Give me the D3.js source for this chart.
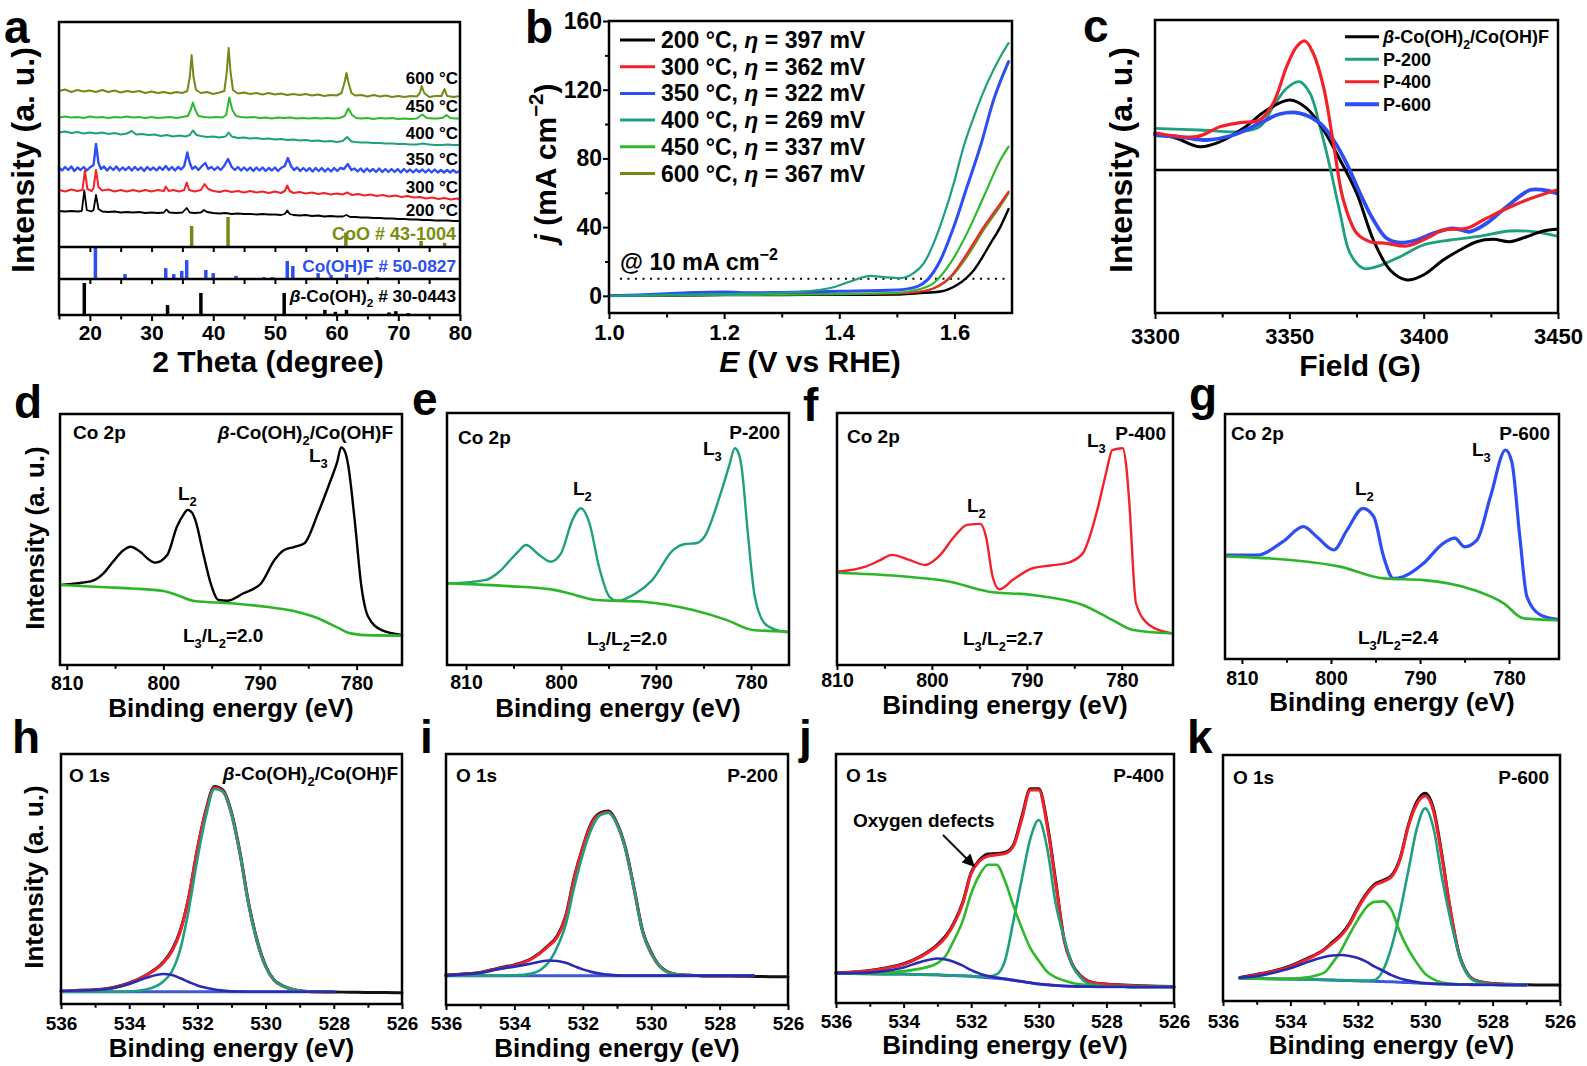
<!DOCTYPE html>
<html><head><meta charset="utf-8">
<script src="https://cdn.jsdelivr.net/npm/d3@7"></script>
<style>body{margin:0;background:#fff}svg{display:block}</style>
</head><body>
<svg id="fig" width="1587" height="1066"></svg>
<script>
// ================= DATA =================
// Panel a: XRD patterns [2theta, intensity a.u.]
const xrd600 = [[15,156],[16,157.5],[17,155],[18,157],[19,155.5],[20,156.5],[21,155],[22,157],[23,155],[24,156.5],[25,154.5],[26,156],[27,155],[28,156],[29,154],[30,155.5],[31,154],[32,155],[33,153.5],[34,155],[35,154],[35.8,156],[36.2,170],[36.5,192],[36.8,170],[37.2,157],[38,154],[39,155],[40,153],[41,154.5],[41.8,156],[42.2,175],[42.5,199],[42.8,175],[43.2,157],[44,153.5],[45,154.5],[46,153],[47,154],[48,152.5],[49,154],[50,152.5],[51,153.5],[52,152],[53,153],[54,152],[55,153],[56,151.5],[57,152.5],[58,151],[59,152],[60,151.5],[60.8,154],[61.3,165],[61.6,174],[61.9,165],[62.4,154],[63,151.5],[64,152],[65,150.5],[66,152],[67,150.5],[68,151.5],[69,150],[70,151],[71,150],[72,151],[73,150.5],[73.5,154],[73.8,161],[74.2,154],[75,150],[76,151],[77,151],[77.5,158],[77.9,151],[79,150],[80,151]];
const xrd450 = [[15,129.5],[16,130.5],[17,129.5],[18,130],[19,129],[20,130.5],[21,129.5],[22,130],[23,129],[24,130],[25,129.5],[26,130.5],[27,129.5],[28,130],[29,129],[30,130],[31,129],[32,129.5],[33,130],[34,129],[35,130],[35.9,131],[36.4,138],[36.7,144.5],[37.1,137],[37.6,131],[38.5,130],[39.5,129.5],[40.5,130],[41.5,129.5],[42.1,132],[42.6,149.5],[43.1,137],[43.7,131],[44.5,130],[45.5,129.5],[46.5,130],[47.5,129],[48.5,129.5],[49.5,128.5],[50.5,129.5],[51.5,129],[52.5,129.5],[53.5,128.5],[54.5,129],[55.5,128.5],[56.5,129],[57.5,128.5],[58.5,129],[59.5,128.5],[60.5,129],[61.3,131],[61.9,138.5],[62.5,132],[63.2,129],[64,128.5],[65,129],[66,128],[67,129],[68,128.5],[69,129],[70,128],[71,128.5],[72,128],[73,128.5],[73.9,132.5],[74.6,129],[75.5,128.5],[76.5,128.5],[77.3,129.5],[77.8,132],[78.4,129],[79.2,128.5],[80,128.5]];
const xrd400 = [[15,114.5],[16,115.5],[17,114],[18,115],[19,113.5],[20,114.5],[21,113.5],[22,114.5],[23,113],[24,114],[25,112.5],[26,113.5],[26.8,116],[27.5,112.5],[28.5,113],[29.5,112],[30.5,112.5],[31.5,111],[32.5,112],[33.5,110.5],[34.5,111.5],[35.5,110.5],[36.2,112],[36.7,116.5],[37.3,112],[38,111],[39,110],[40,110.5],[41,109.5],[42,110.5],[42.5,114.5],[43,110.5],[44,109],[45,109.5],[46,108.5],[47,109],[48,108],[49,108.5],[50,107.5],[51,108],[52,107],[53,107.5],[54,106.5],[55,107],[56,106],[57,106.5],[58,105.5],[59,106],[60,105],[61,106],[61.7,110],[62.4,105.5],[63,105],[64,104.5],[65,104.5],[66,104],[67,104],[68,103.5],[69,103.5],[70,103],[71,103],[72,102.5],[73,102.5],[74,103.5],[75,102.5],[76,102],[77,102],[78,102.5],[79,102],[80,102]];
const xrd350 = [[15,79.5],[15.5,76.5],[16,80],[16.5,77],[17,80.5],[17.5,76],[18,79.5],[18.5,77],[19,80],[19.5,76.5],[20,79.5],[20.6,82],[21,103],[21.4,84],[21.8,78],[22.3,80.5],[22.8,76.5],[23.3,80],[23.8,77],[24.3,80.5],[24.8,76.5],[25.3,79.5],[25.8,77],[26.3,80],[26.8,76.5],[27.3,80],[27.8,77],[28.3,79.5],[28.8,76],[29.3,80],[29.8,77],[30.3,79.5],[30.8,76.5],[31.3,80],[31.8,77],[32.3,81],[32.8,77],[33.3,80],[33.8,76.5],[34.3,80],[34.8,77.5],[35.3,81],[35.8,94.5],[36.2,84],[36.6,78],[37.1,80.5],[37.6,77],[38.1,80.5],[38.7,84],[39.2,78],[39.7,80],[40.2,77],[40.7,80],[41.2,77],[41.7,80.5],[42.4,88],[43,80],[43.5,77],[44,80],[44.5,76.5],[45,79.5],[45.5,76.5],[46,79.5],[46.5,76],[47,79.5],[47.5,76.5],[48,79.5],[48.5,76],[49,79],[49.5,76.5],[50,79.5],[50.5,76],[51,79],[51.6,81],[52.1,89],[52.6,81],[53.1,77],[53.6,79.5],[54.1,76],[54.6,79],[55.1,76],[55.6,79],[56.1,75.5],[56.6,79],[57.1,76],[57.6,79],[58.1,75.5],[58.6,78.5],[59.1,75.5],[59.6,79],[60.1,76],[60.6,79],[61.2,78],[61.8,83],[62.4,77],[62.9,78.5],[63.4,75.5],[63.9,78.5],[64.4,75],[64.9,78.5],[65.4,75.5],[65.9,78],[66.4,75],[66.9,78.5],[67.4,75],[67.9,78],[68.4,75],[68.9,78],[69.4,75],[69.9,78],[70.4,74.5],[70.9,78],[71.4,75],[71.9,77.5],[72.4,74.5],[72.9,77.5],[73.4,75],[73.9,77.5],[74.4,74.5],[74.9,77.5],[75.4,74.5],[75.9,77.5],[76.4,74.5],[76.9,77],[77.4,74.5],[77.9,77],[78.4,74.5],[78.9,77],[79.4,74.5],[80,76]];
const xrd300 = [[15,57],[16,55.5],[17,57.5],[18,56],[18.8,57],[19.2,76.5],[19.6,58],[20.3,56],[20.6,59],[21,77],[21.4,60],[22,56.5],[23,57.5],[24,55.5],[25,57],[26,55.5],[27,57],[28,55.5],[29,57],[30,55.5],[31,57],[32,56],[32.3,60.5],[32.8,56],[33.5,57],[34.5,55.5],[35.3,57],[35.7,64.5],[36.1,57],[37,55.5],[38,57],[38.6,63],[39.2,58],[40,56],[41,55],[42,56.5],[43,55],[44,56],[45,54.5],[46,56],[47,54.5],[48,55.5],[49,54],[50,55.5],[51,54],[51.6,56],[52,61.5],[52.4,56],[53,54],[54,55],[55,53.5],[56,54.5],[57,53],[58,54],[59,52.5],[60,53.5],[61,52.5],[61.7,54.5],[62.5,52],[63.5,53],[64.5,51.5],[65.5,52.5],[66.5,51],[67.5,52],[68.5,50.5],[69.5,51.5],[70.5,50],[71.5,51],[72.5,49.5],[73.5,50],[74.5,48.5],[75.5,49.5],[76.5,48],[77.5,49],[78.5,47.5],[79.5,48.5],[80,47.5]];
const xrd200 = [[15,36],[16,35.5],[17,36],[18,35.5],[18.7,36],[19.1,56.5],[19.5,37],[20.2,35.5],[20.6,37],[21,52],[21.4,38],[22,35.5],[23,35],[24,35.5],[25,34.5],[26,35],[27,34.5],[28,35],[29,34],[30,34.5],[31,34],[32,34.5],[32.4,37.5],[32.9,34.5],[34,34],[35,34.5],[35.7,39],[36.2,34.5],[37,34],[38,34.5],[38.5,37],[39,35],[40,34],[41,33.5],[42,34],[43,33],[44,33.5],[45,33],[46,33],[47,32.5],[48,33],[49,32.5],[50,32.5],[51,32],[51.6,33],[52,36.5],[52.4,33],[53,32],[54,31.5],[55,32],[56,31],[57,31.5],[58,30.5],[59,31],[60,30.5],[61,30.5],[61.6,32],[62.2,30],[63,30],[64,29.5],[65,29.5],[66,29],[67,29],[68,28.5],[69,28.5],[70,28],[71,28],[72,27.5],[73,27.5],[74,27],[75,27],[76,26.5],[77,26.5],[78,26.5],[79,26],[80,26]];
const xrdLabels = ["600 °C","450 °C","400 °C","350 °C","300 °C","200 °C"];
// reference cards [2theta, relative intensity]
const cardCoO = [[36.5,70],[42.4,100],[61.5,48],[73.7,20],[77.5,14]];
const cardCoOHF = [[20.9,100],[25.7,16],[32.3,35],[33.6,16],[34.9,26],[35.7,61],[38.8,29],[40,19],[43.7,10],[48.2,6],[49.6,6],[52,58],[52.9,42],[57,19],[59.1,13],[61.6,16],[66.5,6]];
const cardBeta = [[19.1,100],[32.6,31],[38,69],[51.5,69],[58.1,16],[59.8,10],[61.6,16],[68.5,8],[69.6,12],[71.6,6]];
const xrdTicks = [20,30,40,50,60,70,80];
const xrdMinor = [15,25,35,45,55,65,75];
const xrdSecTicks = [20,25,30,35,40,45,50,55,60,65,70,75];

// Panel b: LSV [E V vs RHE, j mA cm-2]
const lsv200 = [[1.0,0],[1.1,0.2],[1.2,0.4],[1.3,0.5],[1.4,0.6],[1.5,0.7],[1.535,1.5],[1.576,2.5],[1.605,6.4],[1.634,15.1],[1.663,30.7],[1.68,40.3],[1.694,50.5]];
const lsv300 = [[1.0,0],[1.1,0.3],[1.2,0.6],[1.3,0.8],[1.4,1.0],[1.5,1.3],[1.535,2.2],[1.564,4.5],[1.593,11.2],[1.622,24.8],[1.651,40.3],[1.68,54],[1.694,60.7]];
const lsv350 = [[1.0,0],[1.05,0.5],[1.1,1.2],[1.15,2.0],[1.2,2.2],[1.25,1.8],[1.3,2.0],[1.4,2.6],[1.5,3.4],[1.535,5.4],[1.553,9.3],[1.576,21],[1.599,40.3],[1.622,63.6],[1.645,86.9],[1.668,114],[1.694,136.4]];
const lsv400 = [[1.0,0],[1.1,0.5],[1.2,1.0],[1.3,1.8],[1.332,2.3],[1.39,5.0],[1.419,8.3],[1.454,11.6],[1.477,10.9],[1.506,10.3],[1.529,13.2],[1.547,19],[1.564,30.7],[1.581,46.2],[1.599,65.6],[1.616,86.9],[1.634,104.4],[1.657,123.8],[1.68,139.3],[1.694,147.1]];
const lsv450 = [[1.0,0],[1.1,0.3],[1.2,0.5],[1.3,0.7],[1.4,1.0],[1.5,1.8],[1.535,3.5],[1.564,7.4],[1.593,19],[1.622,36.5],[1.651,57.8],[1.68,79.2],[1.694,86.9]];
const lsv600 = [[1.0,0],[1.1,0.2],[1.2,0.5],[1.3,0.7],[1.4,0.9],[1.5,1.2],[1.535,2],[1.564,4.2],[1.593,10.5],[1.622,23],[1.651,38.5],[1.68,52.5],[1.694,59.8]];
const lsvTemps = ["200","300","350","400","450","600"];
const lsvEta = ["397","362","322","269","337","367"];
const lsvRef = [[1.019,10],[1.689,10]];
const lsvXTicks = [1.0,1.2,1.4,1.6];
const lsvXMinor = [1.1,1.3,1.5];
const lsvYTicks = [0,40,80,120,160];
const lsvYMinor = [20,60,100,140];

// Panel c: EPR [Field G, intensity a.u.]
const eprBeta = [[3300,36.7],[3308,31.7],[3316.7,23.3],[3324.2,28.3],[3332.9,41.7],[3341.6,60],[3350.2,70],[3356.5,61.7],[3362.7,40],[3368.9,10],[3375.1,-23.3],[3381.3,-70],[3387.5,-100],[3393.7,-110],[3399.9,-105],[3407.3,-90],[3413.5,-80],[3419.7,-71.7],[3425.9,-69.3],[3432.1,-71.7],[3438.3,-66.7],[3444.5,-61],[3449.5,-59.3]];
const eprP200 = [[3300,41.7],[3316.7,40],[3331.6,38.3],[3339,43.3],[3344,63.3],[3349,81.7],[3353.7,88.3],[3357.7,76.7],[3361.4,43.3],[3365.1,3.3],[3368.9,-43.3],[3372.6,-83.3],[3377.5,-98.3],[3382.5,-96.7],[3391.2,-86.7],[3399.9,-75],[3409.8,-70],[3419.7,-66.7],[3432.1,-61],[3440.8,-61.7],[3449.5,-66]];
const eprP400 = [[3300,37.3],[3315.5,33.3],[3324.2,43.3],[3331.6,47.3],[3339,50],[3344,66.7],[3349,103.3],[3352.7,123.3],[3355.8,129],[3358.9,116.7],[3362.7,83.3],[3366.4,26.7],[3370.1,-30],[3375.1,-63.3],[3380,-71.7],[3386.2,-73.3],[3393.7,-76],[3401.1,-68.3],[3407.3,-60],[3416,-58.3],[3422.2,-50],[3429.7,-40],[3438.3,-30],[3449.5,-20]];
const eprP600 = [[3300,35],[3310.5,32.7],[3319.2,30],[3329.2,35],[3339,46.7],[3346.5,56],[3354,56.7],[3361.4,46.7],[3366.4,30],[3371.3,6.7],[3376.3,-23.3],[3381.3,-50],[3386.2,-68.3],[3391.2,-72.7],[3397.4,-70],[3403.6,-63.3],[3411,-58.3],[3417.2,-61.7],[3423.4,-53.3],[3430.9,-36.7],[3439.6,-20],[3444.5,-20],[3449.5,-23.3]];
const eprTicks = [3300,3350,3400,3450];
const eprMinor = [3325,3375,3425];
const eprNames = ["P-200","P-400","P-600"];

// Panels d-g: Co 2p XPS [binding energy eV, intensity a.u.]
const co2pD = [[810.6,31.9],[809,32.5],[807.3,33.6],[806.2,36.5],[805.2,41.2],[804.2,45.5],[803.4,47.1],[802.4,45.1],[801.5,42],[800.8,40.8],[799.6,43.8],[798.6,55.1],[797.9,60],[797.5,61.8],[797,60.5],[796.7,57.8],[795.8,43.2],[795.1,32.5],[794.3,25.9],[793.4,25.6],[791.7,28.6],[789.9,32.5],[788.5,41.8],[787.5,45.8],[786.5,47],[785.4,48.5],[784,60.4],[782.8,72.4],[782,81],[781.6,86.7],[781.2,85],[780.9,80.3],[780.2,57.8],[779.5,31.2],[778.8,19.2],[777.4,13.9],[775.3,12]];
const co2pDbg = [[810.6,31.9],[806,31],[803.3,30.5],[800,29.5],[798.6,27.9],[796.8,25.5],[793,24.6],[789.4,23.2],[786.5,21.5],[784,18.6],[782,15],[780.6,12.6],[778.5,11.8],[775.3,11.7]];
const co2pE = [[811.8,32.4],[808,33.7],[806.5,37],[805.5,41],[804.5,45],[803.7,47.6],[802.3,43.7],[801.1,41],[800,44.3],[798.8,57.5],[797.9,62.2],[797,56.2],[796,39],[794.9,27.1],[794.1,25.5],[792.1,28.5],[790.4,33.7],[788.2,45.6],[786.9,48],[785.8,48.3],[784.9,50.9],[783.3,66.8],[782.3,79],[781.7,86],[781.3,84],[781,78.7],[780.3,50.9],[779.6,27.1],[778.4,15.9],[776.5,13.2],[776,13]];
const co2pEbg = [[811.8,32.4],[805.5,31.3],[801,30],[799.2,28.5],[796.3,25.8],[791.4,25.1],[786.1,21.8],[782.6,17.9],[779.8,13.9],[776,13.2]];
const co2pF = [[810,37],[807,39],[805.5,41.5],[804.2,43.7],[802.4,41.7],[800.7,39.7],[799.3,43],[797.5,51.6],[796.3,55.6],[794.9,56],[794.3,50.9],[793.6,35],[792.9,30],[791.5,33.7],[789.4,38.4],[787.5,39.5],[785.9,40.3],[784.1,44.3],[783.2,53],[782.4,64.2],[781.6,77],[781,85.3],[779.9,86],[779.5,78],[779.2,64.2],[778.5,24.5],[777.1,15.9],[774.8,12.6]];
const co2pFbg = [[810,36.6],[803.5,35.3],[798.2,33.1],[794,29.1],[789.4,27.8],[784.1,23.8],[781,17.9],[778.8,13.9],[774.8,12.6]];
const co2pG = [[811.7,42.4],[808.3,42.4],[805.4,47.9],[803.1,54],[801.6,49.9],[799.7,44.5],[798.2,52.6],[796.4,61.5],[795.2,58.1],[794.1,41.8],[793,32.9],[791.9,33.6],[789.6,39.1],[787.4,47.2],[786.1,49.3],[785,45.8],[783.6,48.6],[782.1,66.2],[780.4,85.3],[779.7,80.5],[778.8,49.9],[778,25.4],[776.5,18],[774.6,16.2]];
const co2pGbg = [[811.7,41.9],[804.6,40.4],[799,37.7],[794.1,32.9],[789.6,32.2],[784,28.2],[780.6,22.7],[778.4,16.6],[774.6,15.8]];
const co2pTicks = [810,800,790,780];
const co2pMinor = [805,795,785];
const co2pRatios = ["2.0","2.0","2.7","2.4"];

// Panels h-k: O 1s XPS on a shared energy grid
const o1sE = [536,535.5,535,534.5,534,533.5,533,532.75,532.5,532.25,532,531.75,531.5,531.25,531,530.75,530.5,530.25,530,529.75,529.5,529.25,529,528.75,528.5,528,527.5,527,526.5,526];
const hRaw = [null,5.5,5.7,6.5,8.4,11.6,16.8,21.5,29.5,43,62,77.5,87,85.5,76.5,60.5,40.5,25.5,15.3,9.6,7.3,6.0,5.3,5.0,4.9,4.8,4.7,4.6,4.6,4.5];
const hFit = [5.2,5.4,5.6,6.4,8.2,11.5,16.5,21,29,43,62,77,86.5,85,76,60,40,25,15,9.5,7.2,6.0,5.3,5.0,4.9,4.9,null,null,null,null];
const hBase = [4.9,4.9,4.9,4.9,4.9,4.9,4.9,4.9,4.9,4.9,4.9,4.9,4.9,4.9,4.9,4.9,4.9,4.9,4.9,4.9,4.9,4.9,4.9,4.9,4.9,4.9,null,null,null,null];
const hC1 = [4.9,4.9,4.9,4.9,5.0,5.8,9,13,22,38,58,75,86,85,76,60,40,25,15,9.5,7.2,6.0,5.3,5.0,4.9,4.9,null,null,null,null];
const hC3 = [5.2,5.4,5.6,6.3,8,10.5,12,11.6,10.3,8.8,7.4,6.5,5.8,5.4,5.1,5.0,4.9,4.9,4.9,4.9,4.9,4.9,4.9,4.9,4.9,4.9,null,null,null,null];
const iRaw = [12,12.4,13,14.6,16,18.5,23.8,27.5,35.5,51,63,72.5,76.5,77.3,72.5,62.5,46.5,29.5,21,15.5,13.1,12.2,11.9,11.8,11.6,11.6,11.5,11.4,11.3,11.3];
const iFit = [11.8,12.3,12.9,14.4,15.8,18.3,23.5,27,35,50.5,62.5,72,76,76.8,72,62,46,29,20.5,15.3,13,12.2,11.9,11.8,11.7,11.7,11.7,11.7,null,null];
const iBase = [11.7,11.7,11.7,11.7,11.7,11.7,11.7,11.7,11.7,11.7,11.7,11.7,11.7,11.7,11.7,11.7,11.7,11.7,11.7,11.7,11.7,11.7,11.7,11.7,11.7,11.7,11.7,11.7,null,null];
const iC1 = [11.7,11.7,11.7,11.7,11.8,12.5,17,23,32,47,60,70,75.5,76.5,72,62,46,29,20.5,15.3,13,12.2,11.9,11.8,11.7,11.7,11.7,11.7,null,null];
const iC3 = [11.7,12.2,12.8,14.2,15.3,16.5,17.7,17.5,16.8,15.5,14.2,13.2,12.5,12.1,11.8,11.7,11.7,11.7,11.7,11.7,11.7,11.7,11.7,11.7,11.7,11.7,11.7,11.7,null,null];
const jRaw = [12.2,12.5,13.1,14.2,15.8,18.8,23.5,27,32.5,40.5,52.5,57.5,59.8,60,60.5,63.5,75,86,86,72,49,25.5,15.3,10.8,8.6,7.6,7.2,6.9,6.7,6.6];
const jFit = [12.1,12.4,13,14,15.5,18.5,23,26.5,32,40,52,57,59,59.5,60,63,74,85.5,85.5,71,48,25,15,10.5,8.5,7.5,7.1,6.8,6.6,6.5];
const jBase = [11.9,11.8,11.7,11.6,11.6,11.4,11.3,11.1,11.0,10.9,10.7,10.4,10.1,9.9,9.6,9.1,8.6,8.1,7.6,7.3,7.0,6.8,6.7,6.6,6.6,6.5,6.5,6.4,6.4,6.4];
const jC1 = [11.9,11.8,11.7,11.6,11.6,11.4,11.3,11.1,11.0,10.9,10.8,10.7,10.7,11.5,17,33,50,66,73.5,62,40,26,15,10,7.6,6.7,6.5,6.4,6.4,6.4];
const jC2 = [11.9,11.9,11.9,12.2,12.8,13.8,16,19,25.5,33,44,51.5,55.5,55.5,49,39,30,22,17,12.5,10.3,9,8,7.5,7,6.6,6.5,6.4,6.4,6.4];
const jC3 = [11.9,12.0,12.2,13,14.3,16.5,17.9,17.5,16.5,15,13.2,11.8,10.8,10.2,9.7,9.2,8.6,8.1,7.6,7.3,7.0,6.8,6.7,6.6,6.6,6.5,6.5,6.4,6.4,6.4];
const kRaw = [null,9.6,10.8,12.2,14.3,17.3,21,24,27,31.5,38,43.5,47.5,49,51,57.8,71.5,81,84.5,78,59,36.5,19.5,11.3,8.4,7.1,6.8,6.6,6.5,6.5];
const kFit = [null,9.4,10.6,12,14,17,20.7,23.5,26.5,31,37.5,43,47,48.5,50.5,57.3,71,80,83.3,77,58,37,19,11,8.3,7,6.7,6.6,null,null];
const kBase = [null,9.2,9.1,9.0,8.9,8.8,8.6,8.5,8.4,8.3,8.2,8.1,8.0,7.9,7.8,7.6,7.5,7.3,7.2,7.0,6.9,6.8,6.7,6.7,6.6,6.6,6.5,6.5,null,null];
const kC1 = [null,9.2,9.1,9.0,8.9,8.8,8.6,8.5,8.4,8.3,8.2,8.2,8.5,12.5,22,36,53,70,78.3,70,50,33,19,11,8,6.8,6.6,6.5,null,null];
const kC2 = [null,9.2,9.1,9.0,9.0,9.6,11.5,15.5,20.5,27,33,38,40.3,40.5,37,28,21,15.5,11,8.8,7.5,7,6.8,6.7,6.6,6.6,6.5,6.5,null,null];
const kC3 = [null,9.5,10.1,11.5,13.3,15.8,17.9,18.5,18.7,18.3,17.5,16,14,12.3,10.5,9.2,8.3,7.7,7.2,7.0,6.9,6.8,6.7,6.7,6.6,6.6,6.5,6.5,null,null];
const o1sTicks = [536,534,532,530,528,526];
const o1sMinor = [535,533,531,529,527];

// ================= DRAWING =================
const FONT = '"Liberation Sans", Arial, Helvetica, sans-serif';
const svg = d3.select('#fig').attr('font-family', FONT);
const C = {black:'#000', red:'#f3222a', blue:'#2d4ef2', teal:'#1e9f80', green:'#2fb82b', olive:'#6f8a16',
  bgGreen:'#2db52a', compBlue:'#2a2ab4', baseBlue:'#3a5ad8'};

function rich(parent, x, y, parts, size, anchor, color, rot) {
  const t = parent.append('text').attr('x', x).attr('y', y).attr('font-size', size)
    .attr('font-weight', 'bold').attr('text-anchor', anchor || 'start').attr('fill', color || '#000');
  if (rot) t.attr('transform', `rotate(${rot},${x},${y})`);
  let shift = 0;
  parts.forEach(p => {
    const [s, m] = typeof p === 'string' ? [p, ''] : p;
    const ts = t.append('tspan').text(s);
    let target = 0;
    if (m === 'sub') { target = size * 0.32; ts.attr('font-size', size * 0.68); }
    if (m === 'sup') { target = -size * 0.42; ts.attr('font-size', size * 0.68); }
    if (m === 'i') ts.attr('font-style', 'italic');
    if (target !== shift) { ts.attr('dy', target - shift); shift = target; }
  });
  return t;
}
function frame(x0, y0, x1, y1) {
  svg.append('rect').attr('x', x0).attr('y', y0).attr('width', x1 - x0).attr('height', y1 - y0)
    .attr('fill', 'none').attr('stroke', '#000').attr('stroke-width', 2.5);
}
function bottomAxis(scale, y, major, minor, fs, pad, fmt, tick) {
  tick = tick || 5;
  const g = svg.append('g').attr('transform', `translate(0,${y})`);
  g.call(d3.axisBottom(scale).tickValues(major).tickSize(tick).tickPadding(pad).tickFormat(fmt || d3.format('d')));
  g.select('.domain').remove();
  g.selectAll('.tick line').attr('stroke', '#000').attr('stroke-width', 2);
  g.selectAll('.tick text').attr('font-size', fs).attr('font-weight', 'bold').attr('font-family', FONT).attr('fill', '#000');
  if (minor) {
    const m = svg.append('g').attr('transform', `translate(0,${y})`);
    m.call(d3.axisBottom(scale).tickValues(minor).tickSize(tick * 0.75).tickFormat(''));
    m.select('.domain').remove();
    m.selectAll('.tick line').attr('stroke', '#000').attr('stroke-width', 2);
  }
}
function panelLetter(x, y, s) {
  svg.append('text').attr('x', x).attr('y', y).attr('font-size', 46).attr('font-weight', 'bold').text(s);
}
function path(data, x, y, color, w, curve) {
  const line = d3.line().defined(d => d[1] != null).x(d => x(d[0])).y(d => y(d[1])).curve(curve || d3.curveLinear);
  svg.append('path').datum(data).attr('d', line).attr('fill', 'none').attr('stroke', color)
    .attr('stroke-width', w).attr('stroke-linejoin', 'round').attr('stroke-linecap', 'round');
}

// ---------- Panel a ----------
(function () {
  const X0 = 59, X1 = 460, T = 22, D1 = 247, D2 = 279, B = 315;
  const x = d3.scaleLinear().domain([15, 80]).range([X0, X1]);
  const y = d3.scaleLinear().domain([0, 225]).range([D1, T]);
  const series = [[xrd600, C.olive, 2], [xrd450, C.green, 2], [xrd400, C.teal, 2], [xrd350, C.blue, 2.4], [xrd300, C.red, 2], [xrd200, C.black, 1.8]];
  series.forEach(s => path(s[0], x, y, s[1], s[2]));
  const labY = [84, 112, 139, 165, 193, 216];
  xrdLabels.forEach((l, i) => rich(svg, 458, labY[i], [l], 17, 'end', '#000'));
  // reference cards
  const yCoO = d3.scaleLinear().domain([0, 100]).range([D1, D1 - 30]);
  const yF = d3.scaleLinear().domain([0, 100]).range([D2, D1 + 1]);
  const yB = d3.scaleLinear().domain([0, 100]).range([B, D2 + 4]);
  [[cardCoO, yCoO, '#6f8a16', D1], [cardCoOHF, yF, '#2d4ef2', D2], [cardBeta, yB, '#000', B]].forEach(c => {
    svg.append('g').selectAll('line').data(c[0]).join('line')
      .attr('x1', d => x(d[0])).attr('x2', d => x(d[0])).attr('y1', c[3]).attr('y2', d => c[1](d[1]))
      .attr('stroke', c[2]).attr('stroke-width', 3.5);
  });
  rich(svg, 456, 239.5, ['CoO # 43-1004'], 18, 'end', '#7a8c12');
  rich(svg, 456, 271.5, ['Co(OH)F # 50-0827'], 17.3, 'end', '#2d4ef2');
  rich(svg, 456, 301.5, [['β', 'i'], '-Co(OH)', ['2', 'sub'], ' # 30-0443'], 17.3, 'end', '#000');
  frame(X0, T, X1, B);
  svg.append('line').attr('x1', X0).attr('x2', X1).attr('y1', D1).attr('y2', D1).attr('stroke', '#000').attr('stroke-width', 2.5);
  svg.append('line').attr('x1', X0).attr('x2', X1).attr('y1', D2).attr('y2', D2).attr('stroke', '#000').attr('stroke-width', 2.5);
  bottomAxis(x, D1, xrdSecTicks, null, 0, 0, () => '', 5);
  bottomAxis(x, D2, xrdSecTicks, null, 0, 0, () => '', 5);
  bottomAxis(x, B, xrdTicks, xrdMinor, 21, 3.6, d3.format('d'), 6);
  rich(svg, 268, 372, ['2 Theta (degree)'], 30, 'middle');
  rich(svg, 34, 160, ['Intensity (a. u.)'], 32, 'middle', '#000', -90);
  panelLetter(4, 43, 'a');
})();

// ---------- Panel b ----------
(function () {
  const X0 = 609, X1 = 1012, T = 21, B = 313;
  const x = d3.scaleLinear().domain([1.0, 1.7]).range([X0, X1]);
  const y = d3.scaleLinear().domain([-10, 160]).range([B, T]);
  svg.append('path').datum(lsvRef).attr('d', d3.line().x(d => x(d[0])).y(d => y(d[1])))
    .attr('stroke', '#000').attr('stroke-width', 2).attr('stroke-dasharray', '2,5.5').attr('fill', 'none');
  const cur = d3.curveMonotoneX;
  path(lsv600, x, y, C.olive, 2.2, cur);
  path(lsv200, x, y, C.black, 2.4, cur);
  path(lsv300, x, y, C.red, 2, cur);
  path(lsv450, x, y, C.green, 2.2, cur);
  path(lsv350, x, y, C.blue, 3, cur);
  path(lsv400, x, y, C.teal, 2.2, cur);
  const cols = [C.black, C.red, C.blue, C.teal, C.green, C.olive];
  lsvTemps.forEach((t, i) => {
    const cy = 40 + i * 26.7;
    svg.append('line').attr('x1', 620).attr('x2', 655).attr('y1', cy).attr('y2', cy).attr('stroke', cols[i]).attr('stroke-width', 3);
    rich(svg, 661, cy + 8, [t + ' °C, ', ['η', 'i'], ' = ' + lsvEta[i] + ' mV'], 23, 'start');
  });
  rich(svg, 620, 270, ['@ 10 mA cm', ['−2', 'sup']], 23.5, 'start');
  frame(X0, T, X1, B);
  bottomAxis(x, B, lsvXTicks, lsvXMinor, 22, 5.3, d3.format('.1f'), 6);
  const g = svg.append('g').attr('transform', `translate(${X0},0)`);
  g.call(d3.axisLeft(y).tickValues(lsvYTicks).tickSize(6).tickPadding(1).tickFormat(d3.format('d')));
  g.select('.domain').remove();
  g.selectAll('.tick line').attr('stroke', '#000').attr('stroke-width', 2);
  g.selectAll('.tick text').attr('font-size', 23).attr('font-weight', 'bold').attr('font-family', FONT).attr('fill', '#000');
  const gm = svg.append('g').attr('transform', `translate(${X0},0)`);
  gm.call(d3.axisLeft(y).tickValues(lsvYMinor).tickSize(4).tickFormat(''));
  gm.select('.domain').remove();
  gm.selectAll('.tick line').attr('stroke', '#000').attr('stroke-width', 2);
  rich(svg, 810, 372, [['E', 'i'], ' (V vs RHE)'], 30, 'middle');
  rich(svg, 556, 163, [['j', 'i'], ' (mA cm', ['−2', 'sup'], ')'], 30, 'middle', '#000', -90);
  panelLetter(525, 43, 'b');
})();

// ---------- Panel c ----------
(function () {
  const X0 = 1155, X1 = 1558, T = 20, B = 313;
  const x = d3.scaleLinear().domain([3300, 3450]).range([X0, X1]);
  const y = d3.scaleLinear().domain([-143, 150]).range([B, T]);
  svg.append('line').attr('x1', X0).attr('x2', X1).attr('y1', y(0)).attr('y2', y(0)).attr('stroke', '#000').attr('stroke-width', 2.5);
  const cur = d3.curveCatmullRom.alpha(0.5);
  path(eprP200, x, y, C.teal, 2.8, cur);
  path(eprBeta, x, y, C.black, 3, cur);
  path(eprP600, x, y, C.blue, 3.8, cur);
  path(eprP400, x, y, C.red, 3.2, cur);
  const lcols = [C.black, C.teal, C.red, C.blue];
  const rows = [36.7, 59.3, 81.7, 104.3];
  lcols.forEach((c, i) => {
    svg.append('line').attr('x1', 1345).attr('x2', 1379).attr('y1', rows[i]).attr('y2', rows[i]).attr('stroke', c).attr('stroke-width', i === 3 ? 4 : 3);
    const parts = i === 0 ? [['β', 'i'], '-Co(OH)', ['2', 'sub'], '/Co(OH)F'] : [eprNames[i - 1]];
    rich(svg, 1383, rows[i] + 6.5, parts, 18, 'start');
  });
  frame(X0, T, X1, B);
  bottomAxis(x, B, eprTicks, eprMinor, 22, 9.3, d3.format('d'), 6);
  rich(svg, 1360, 376, ['Field (G)'], 30, 'middle');
  rich(svg, 1132, 160, ['Intensity (a. u.)'], 32, 'middle', '#000', -90);
  panelLetter(1083, 42, 'c');
})();

// ---------- Panels d-g (Co 2p) ----------
const co2pPanels = [
  {L: 'd', lx: 14, ly: 418, x0: 60, x1: 402, y0: 414, y1: 665, dom: [810.7, 775.3], raw: co2pD, bg: co2pDbg, col: C.black, w: 2.4, pad: 6.3, tname: [['β', 'i'], '-Co(OH)', ['2', 'sub'], '/Co(OH)F'],
   co: [73, 439], nm: [393, 439], l2: [178, 500], l3: [309, 462], rt: [183, 642], ty: 717},
  {L: 'e', lx: 412, ly: 415, x0: 447, x1: 789, y0: 413, y1: 665, dom: [812, 776], raw: co2pE, bg: co2pEbg, col: C.teal, w: 2.4, pad: 5.3, tname: ['P-200'],
   co: [458, 444], nm: [780, 439], l2: [573, 495], l3: [703, 455], rt: [587, 645], ty: 717},
  {L: 'f', lx: 803, ly: 421, x0: 837, x1: 1173, y0: 413, y1: 665, dom: [810, 774.6], raw: co2pF, bg: co2pFbg, col: C.red, w: 2.4, pad: 3.3, tname: ['P-400'],
   co: [847, 443], nm: [1166, 440], l2: [967, 512], l3: [1087, 447], rt: [963, 645], ty: 714},
  {L: 'g', lx: 1189, ly: 410, x0: 1225, x1: 1559, y0: 414, y1: 659, dom: [811.9, 774.4], raw: co2pG, bg: co2pGbg, col: C.blue, w: 3.2, pad: 7.3, tname: ['P-600'],
   co: [1231, 440], nm: [1550, 440], l2: [1355, 495], l3: [1472, 456], rt: [1358, 644], ty: 711}
];
co2pPanels.forEach((p, k) => {
  const x = d3.scaleLinear().domain(p.dom).range([p.x0, p.x1]);
  const y = d3.scaleLinear().domain([0, 100]).range([p.y1, p.y0]);
  path(p.raw, x, y, p.col, p.w, d3.curveMonotoneX);
  path(p.bg, x, y, C.bgGreen, 2.6, d3.curveMonotoneX);
  frame(p.x0, p.y0, p.x1, p.y1);
  bottomAxis(x, p.y1, co2pTicks, co2pMinor, 19.5, p.pad, d3.format('d'), 5);
  rich(svg, p.co[0], p.co[1], ['Co 2p'], 19, 'start');
  rich(svg, p.nm[0], p.nm[1], p.tname, 19, 'end');
  rich(svg, p.l2[0], p.l2[1], ['L', ['2', 'sub']], 19, 'start');
  rich(svg, p.l3[0], p.l3[1], ['L', ['3', 'sub']], 19, 'start');
  rich(svg, p.rt[0], p.rt[1], ['L', ['3', 'sub'], '/L', ['2', 'sub'], '=' + co2pRatios[k]], 19, 'start');
  rich(svg, (p.x0 + p.x1) / 2, p.ty, ['Binding energy (eV)'], 26, 'middle');
  panelLetter(p.lx, p.ly, p.L);
});
rich(svg, 44, 538, ['Intensity (a. u.)'], 26, 'middle', '#000', -90);

// ---------- Panels h-k (O 1s) ----------
const o1sPanels = [
  {L: 'h', lx: 12, x0: 61, x1: 402, y0: 754, y1: 1004, raw: hRaw, fit: hFit, base: hBase, comps: [[hC1, C.teal], [hC3, C.compBlue]], pad: 7.3, ty: 1057,
   o: [69, 782], nm: [398, 780], tname: [['β', 'i'], '-Co(OH)', ['2', 'sub'], '/Co(OH)F']},
  {L: 'i', lx: 420, x0: 446, x1: 788, y0: 754, y1: 1005, raw: iRaw, fit: iFit, base: iBase, comps: [[iC1, C.teal], [iC3, C.compBlue]], pad: 6.6, ty: 1057,
   o: [456, 782], nm: [778, 782], tname: ['P-200']},
  {L: 'j', lx: 799, x0: 836, x1: 1174, y0: 754, y1: 1003, raw: jRaw, fit: jFit, base: jBase, comps: [[jC1, C.teal], [jC2, C.green], [jC3, C.compBlue]], pad: 7, ty: 1054,
   o: [846, 782], nm: [1164, 782], tname: ['P-400']},
  {L: 'k', lx: 1187, x0: 1223, x1: 1560, y0: 755, y1: 1001, raw: kRaw, fit: kFit, base: kBase, comps: [[kC1, C.teal], [kC2, C.green], [kC3, C.compBlue]], pad: 9, ty: 1054,
   o: [1233, 784], nm: [1549, 784], tname: ['P-600']}
];
const defs = svg.append('defs');
defs.append('marker').attr('id', 'arr').attr('viewBox', '0 0 10 10').attr('refX', 9).attr('refY', 5)
  .attr('markerWidth', 7).attr('markerHeight', 7).attr('orient', 'auto')
  .append('path').attr('d', 'M0,0 L10,5 L0,10 z').attr('fill', '#000');
o1sPanels.forEach(p => {
  const x = d3.scaleLinear().domain([536, 526]).range([p.x0, p.x1]);
  const y = d3.scaleLinear().domain([0, 100]).range([p.y1, p.y0]);
  const zip = a => o1sE.map((e, i) => [e, a[i]]);
  const cur = d3.curveMonotoneX;
  path(zip(p.raw), x, y, '#111', 3, cur);
  path(zip(p.fit), x, y, C.red, 3, cur);
  path(zip(p.base), x, y, C.baseBlue, 3, cur);
  p.comps.forEach(c => path(zip(c[0]), x, y, c[1], 2.6, cur));
  frame(p.x0, p.y0, p.x1, p.y1);
  bottomAxis(x, p.y1, o1sTicks, o1sMinor, 19, p.pad, d3.format('d'), 5);
  rich(svg, p.o[0], p.o[1], ['O 1s'], 19, 'start');
  rich(svg, p.nm[0], p.nm[1], p.tname, 19, 'end');
  rich(svg, (p.x0 + p.x1) / 2, p.ty, ['Binding energy (eV)'], 26, 'middle');
  panelLetter(p.lx, 753, p.L);
});
rich(svg, 853, 827, ['Oxygen defects'], 19, 'start');
svg.append('line').attr('x1', 943).attr('y1', 835).attr('x2', 974).attr('y2', 866)
  .attr('stroke', '#000').attr('stroke-width', 1.8).attr('marker-end', 'url(#arr)');
rich(svg, 43, 877, ['Intensity (a. u.)'], 26, 'middle', '#000', -90);
</script>
</body></html>
